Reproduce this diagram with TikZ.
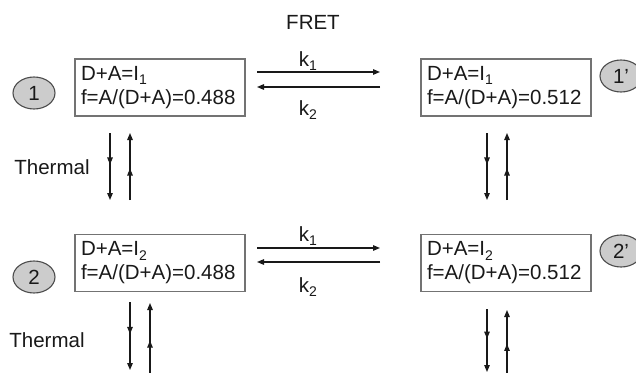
\documentclass[tikz,border=0pt]{standalone}
\usepackage{fontspec}
\setmainfont{Liberation Sans}
\usetikzlibrary{arrows.meta,shapes.geometric,decorations.markings}
\newcommand{\subidx}[1]{\raisebox{-4.5pt}{\fontsize{14}{14}\selectfont #1}}
\begin{document}
\begin{tikzpicture}[x=1pt,y=-1pt,
  txt/.style={font=\fontsize{20.5}{24}\selectfont, text=black!90},
  statebox/.style={txt, draw=black!55, line width=1.3pt, align=left, text width=158pt,
     inner xsep=6pt, inner ysep=0pt, minimum height=57pt},
  tag/.style={txt, ellipse, draw=black!70, line width=1.1pt, fill=black!20,
     minimum width=42pt, minimum height=32pt, inner sep=0pt},
  tip/.style={-{Triangle[length=7pt,width=5.5pt]}},
  conn/.style={line width=1.2pt, draw=black!90},
  midarr/.style={postaction={decorate}, decoration={markings,
     mark=at position 0.47 with {\arrow{Triangle[length=7pt,width=5.5pt]}}}}
]
\useasboundingbox (0,0) rectangle (636,372);
\fill[white] (0,0) rectangle (636,372);

\node[txt] (fret) at (313,22) {FRET};

\node[statebox] (b1) at (160,87.5) {D+A=I\subidx{1}\\f=A/(D+A)=0.488};
\node[statebox] (b1p) at (506,87.5) {D+A=I\subidx{1}\\f=A/(D+A)=0.512};
\node[statebox] (b2) at (160,263) {D+A=I\subidx{2}\\f=A/(D+A)=0.488};
\node[statebox] (b2p) at (506,263) {D+A=I\subidx{2}\\f=A/(D+A)=0.512};

\node[tag] (c1) at (34,93) {1};
\node[tag] (c1p) at (621,76) {1'};
\node[tag] (c2) at (34,277) {2};
\node[tag] (c2p) at (621,251) {2'};

\node[txt] (th1) at (52,167) {Thermal};
\node[txt] (th2) at (47,340) {Thermal};

\node[txt] (k1a) at (308,61) {k\subidx{1}};
\node[txt] (k2a) at (308,110) {k\subidx{2}};
\node[txt] (k1b) at (308,236) {k\subidx{1}};
\node[txt] (k2b) at (308,287) {k\subidx{2}};

% horizontal FRET arrows
\coordinate (hA1) at (257,72);  \coordinate (hA2) at (380,72);
\coordinate (hB1) at (380,87);  \coordinate (hB2) at (257,87);
\coordinate (hC1) at (257,248); \coordinate (hC2) at (380,248);
\coordinate (hD1) at (380,262); \coordinate (hD2) at (257,262);
\draw[conn,tip] (hA1) -- (hA2);
\draw[conn,tip] (hB1) -- (hB2);
\draw[conn,tip] (hC1) -- (hC2);
\draw[conn,tip] (hD1) -- (hD2);

% vertical thermal arrows
\coordinate (v1a) at (110,133); \coordinate (v1b) at (110,200);
\coordinate (v2a) at (130,200); \coordinate (v2b) at (130,133);
\coordinate (v3a) at (487,133); \coordinate (v3b) at (487,200);
\coordinate (v4a) at (507,200); \coordinate (v4b) at (507,133);
\coordinate (v5a) at (130,302); \coordinate (v5b) at (130,370);
\coordinate (v6a) at (150,374); \coordinate (v6b) at (150,303);
\coordinate (v7a) at (487,309); \coordinate (v7b) at (487,372);
\coordinate (v8a) at (507,374); \coordinate (v8b) at (507,310);
\foreach \s/\e in {v1a/v1b,v2a/v2b,v3a/v3b,v4a/v4b,v5a/v5b,v6a/v6b,v7a/v7b,v8a/v8b}
  \draw[conn,tip,midarr] (\s) -- (\e);
\end{tikzpicture}
\end{document}
